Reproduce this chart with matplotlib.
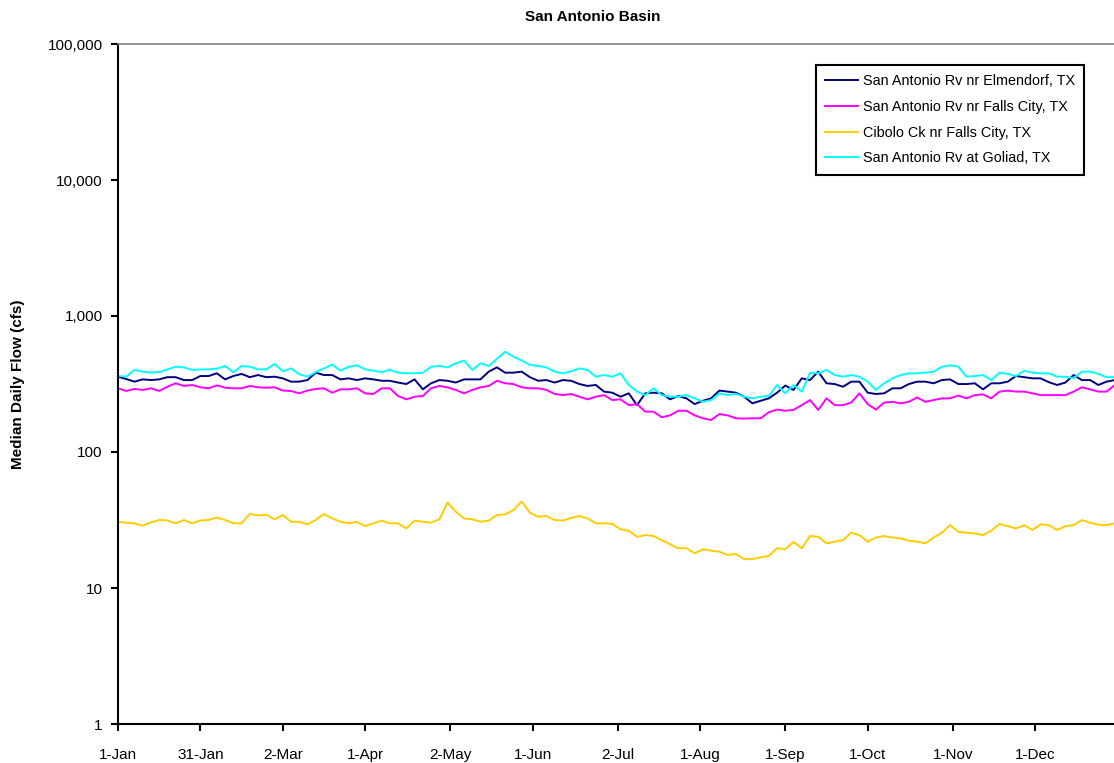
import numpy as np
import matplotlib.pyplot as plt
from matplotlib.ticker import FuncFormatter

plt.rcParams.update({'font.family': ['Liberation Sans', 'DejaVu Sans'], 'font.size': 11})

# sample days (day of year, 0 = 1-Jan), every 3rd day
days = np.arange(0, 364, 3)

elmendorf = [358, 344, 329, 342, 338, 342, 355, 355, 338, 338, 362, 362, 379, 342, 362, 375,
             355, 368, 355, 358, 348, 329, 329, 338, 383, 368, 368, 342, 348, 338, 348, 342,
             334, 334, 324, 316, 342, 289, 320, 338, 334,
             324, 342, 342, 342, 390, 419, 383, 383, 390, 355, 334, 338, 324, 338, 334, 316,
             306, 311, 278, 273, 255, 270, 221, 270, 273, 270, 244, 258, 248, 225, 238, 248,
             283, 278, 273, 255, 228, 238, 248, 273,
             308, 286, 348, 338, 390, 320, 316, 302, 329, 329, 273, 267, 270, 294, 294, 316,
             329, 329, 320, 338, 342, 316, 316, 320, 289, 320, 320, 329, 362, 355, 348, 348,
             326, 311, 324, 368, 338, 338, 311, 329, 338]

falls_city = [294, 281, 291, 286, 294, 281, 302, 320, 306, 311, 299, 294, 309, 297, 294, 294,
              306, 299, 297, 299, 283, 281, 270, 283, 291, 294, 273, 289, 289, 294, 270, 267,
              294, 294, 258, 244, 255, 258, 294, 306, 299,
              286, 270, 286, 299, 306, 334, 320, 316, 299, 294, 294, 286, 267, 262, 267, 255,
              244, 255, 262, 241, 244, 221, 225, 198, 198, 180, 186, 201, 201, 186, 177, 172,
              190, 186, 177, 176, 177, 177, 196, 205,
              201, 204, 221, 241, 204, 248, 221, 221, 231, 270, 225, 205, 231, 234, 228, 234,
              252, 234, 241, 248, 248, 260, 248, 262, 265, 248, 278, 283, 278, 278, 270, 262,
              262, 262, 262, 278, 299, 289, 278, 278, 311]

cibolo = [30.7, 30.2, 29.9, 28.7, 30.4, 31.6, 31.4, 29.9, 31.6, 29.9, 31.4, 31.6, 33.0, 31.6,
          29.9, 29.9, 35.0, 34.2, 34.6, 32.0, 34.4, 30.7, 30.7, 29.4, 31.6, 35.0, 32.5, 30.7,
          29.9, 30.7, 28.5, 29.9, 31.3, 29.9, 29.9, 27.4, 31.3, 30.7, 30.2, 32.0, 42.5,
          36.4, 32.5, 32.0, 30.7, 31.3, 34.4, 34.8, 37.4, 43.2, 35.8, 33.4, 33.8, 31.6, 31.3,
          32.8, 33.8, 32.5, 29.9, 29.9, 29.6, 27.0, 26.4, 23.8, 24.5, 24.1, 22.5, 21.0, 19.6,
          19.6, 18.0, 19.3, 18.8, 18.5, 17.5, 17.8, 16.3, 16.3, 16.8, 17.2, 19.6,
          19.3, 21.8, 19.6, 24.1, 23.8, 21.3, 21.9, 22.5, 25.5, 24.5, 21.9, 23.5, 24.1, 23.5,
          23.2, 22.3, 21.9, 21.3, 23.5, 25.5, 29.0, 25.9, 25.5, 25.2, 24.5, 26.4, 29.6, 28.5,
          27.4, 29.0, 26.7, 29.4, 29.0, 26.7, 28.5, 29.0, 31.6, 30.2, 29.2, 29.0, 29.9]

goliad = [363, 358, 401, 390, 383, 387, 405, 424, 419, 401, 405, 405, 410, 429, 385, 429,
          424, 405, 405, 444, 392, 412, 373, 358, 387, 412, 440, 396, 424, 434, 405, 396,
          387, 401, 383, 379, 379, 383, 424, 429, 419,
          449, 470, 401, 449, 429, 485, 546, 502, 470, 437, 429, 419, 390, 379, 392, 412,
          401, 358, 368, 358, 379, 311, 278, 262, 294, 262, 255, 255, 262, 248, 234, 241,
          270, 262, 267, 255, 248, 255, 258, 311,
          270, 311, 278, 383, 379, 401, 368, 358, 368, 358, 329, 286, 320, 348, 368, 379,
          379, 383, 390, 424, 434, 424, 358, 362, 368, 338, 383, 375, 362, 396, 383, 379,
          379, 358, 358, 348, 390, 390, 375, 355, 355]

series_names = ["San Antonio Rv nr Elmendorf, TX", "San Antonio Rv nr Falls City, TX",
                "Cibolo Ck nr Falls City, TX", "San Antonio Rv at Goliad, TX"]
series_colors = ["#000080", "#FF00FF", "#FFCC00", "#00FFFF"]

tick_days = [0, 30, 60, 90, 121, 151, 182, 212, 243, 273, 304, 334]
tick_labels = ["1-Jan", "31-Jan", "2-Mar", "1-Apr", "2-May", "1-Jun",
               "2-Jul", "1-Aug", "1-Sep", "1-Oct", "1-Nov", "1-Dec"]

fig = plt.figure(figsize=(11.14, 7.63), dpi=100)
ax1 = fig.add_axes([118/1114, 1 - 724/763, 1 - 118/1114, (724 - 44)/763])

for values, name, color in zip([elmendorf, falls_city, cibolo, goliad], series_names, series_colors):
    ax1.plot(days, values, color=color, linewidth=1.4, label=name)

ax1.set_yscale("log")
ax1.set_ylim(1, 100000)
ax1.set_xlim(0, 362.7)
ax1.set_yticks([1, 10, 100, 1000, 10000, 100000])
ax1.yaxis.set_major_formatter(FuncFormatter(lambda v, p: "{:,.0f}".format(v)))
ax1.minorticks_off()
ax1.set_xticks(tick_days)
ax1.set_xticklabels(tick_labels)
ax1.tick_params(direction="out", length=5, width=1.5)
ax1.tick_params(axis="x", pad=12)
ax1.tick_params(axis="y", pad=6)

ax1.spines["left"].set_linewidth(1.5)
ax1.spines["bottom"].set_linewidth(1.5)
ax1.spines["top"].set_color("#808080")
ax1.spines["top"].set_linewidth(1.2)
ax1.spines["right"].set_visible(False)

leg = ax1.legend(loc="upper right", bbox_to_anchor=(0.970, 0.969), borderaxespad=0,
                 fontsize=10.4, fancybox=False, framealpha=1, edgecolor="black",
                 labelspacing=0.8, handlelength=2.3, handletextpad=0.3, borderpad=0.65)
leg.get_frame().set_linewidth(1.5)

fig.text(593/1114, 1 - 17/763, "San Antonio Basin", ha="center", va="center",
         fontsize=11, fontweight="bold")
fig.text(18/1114, 1 - 384/763, "Median Daily Flow (cfs)", ha="center", va="center",
         rotation=90, fontsize=11, fontweight="bold")

fig.savefig("out.png", dpi=100)
